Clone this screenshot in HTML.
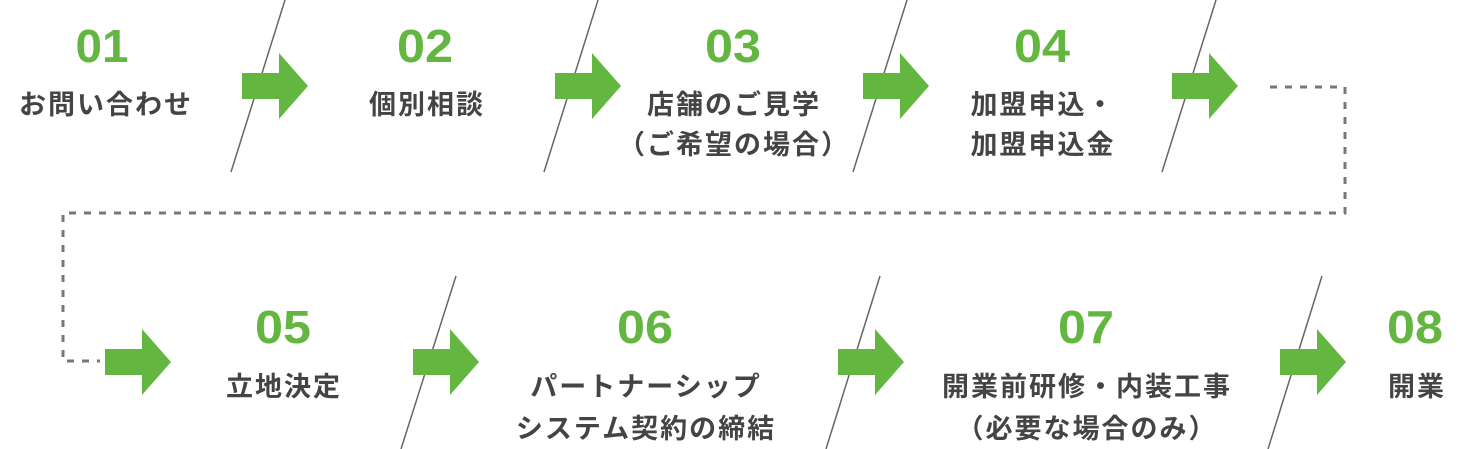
<!DOCTYPE html>
<html><head><meta charset="utf-8"><style>
html,body{margin:0;padding:0;background:#fff;}
svg{display:block}
.n{font-family:"Liberation Sans","Noto Sans CJK JP",sans-serif;font-weight:bold;font-size:46px;fill:#63b640;text-anchor:middle}
.t{font-family:"Liberation Sans","Noto Sans CJK JP",sans-serif;font-weight:bold;font-size:27px;fill:#444;text-anchor:middle;letter-spacing:2px}
.s{stroke:#666;stroke-width:1.5}
</style></head><body>
<svg width="1472" height="449" viewBox="0 0 1472 449" xmlns="http://www.w3.org/2000/svg">
<defs>
<polygon id="ar" points="0,20 37,20 37,0 66,33 37,66 37,46 0,46" fill="#63b640"/>
</defs>
<polyline points="1270,87 1345,87 1345,213 63,213 63,361 100,361" fill="none" stroke="#777" stroke-width="3" stroke-dasharray="7,8"/>
<line class="s" x1="285" y1="0" x2="231" y2="172"/>
<line class="s" x1="598" y1="0" x2="544" y2="172"/>
<line class="s" x1="907" y1="0" x2="853" y2="172"/>
<line class="s" x1="1216" y1="0" x2="1162" y2="172"/>
<line class="s" x1="456" y1="276" x2="401" y2="449"/>
<line class="s" x1="880" y1="276" x2="826" y2="449"/>
<line class="s" x1="1322" y1="276" x2="1268" y2="449"/>
<use href="#ar" x="242" y="53"/>
<use href="#ar" x="555" y="53"/>
<use href="#ar" x="863" y="53"/>
<use href="#ar" x="1172" y="53"/>
<use href="#ar" x="105" y="329"/>
<use href="#ar" x="413" y="329"/>
<use href="#ar" x="838" y="329"/>
<use href="#ar" x="1280" y="329"/>
<text class="n" x="102" y="62" textLength="53" lengthAdjust="spacingAndGlyphs">01</text>
<text class="t" x="106" y="114">お問い合わせ</text>
<text class="n" x="425" y="62" textLength="56" lengthAdjust="spacingAndGlyphs">02</text>
<text class="t" x="427" y="114">個別相談</text>
<text class="n" x="733" y="62" textLength="56" lengthAdjust="spacingAndGlyphs">03</text>
<text class="t" x="734" y="114">店舗のご見学</text>
<text class="t" x="734" y="154">（ご希望の場合）</text>
<text class="n" x="1042" y="62" textLength="56" lengthAdjust="spacingAndGlyphs">04</text>
<text class="t" x="1043" y="114">加盟申込・</text>
<text class="t" x="1043" y="154">加盟申込金</text>
<text class="n" x="283" y="343" textLength="56" lengthAdjust="spacingAndGlyphs">05</text>
<text class="t" x="284" y="396">立地決定</text>
<text class="n" x="645" y="343" textLength="56" lengthAdjust="spacingAndGlyphs">06</text>
<text class="t" x="646" y="396">パートナーシップ</text>
<text class="t" x="646" y="438">システム契約の締結</text>
<text class="n" x="1086" y="343" textLength="56" lengthAdjust="spacingAndGlyphs">07</text>
<text class="t" x="1087" y="396">開業前研修・内装工事</text>
<text class="t" x="1087" y="438">（必要な場合のみ）</text>
<text class="n" x="1415" y="343" textLength="56" lengthAdjust="spacingAndGlyphs">08</text>
<text class="t" x="1417" y="396">開業</text>
</svg>
</body></html>
